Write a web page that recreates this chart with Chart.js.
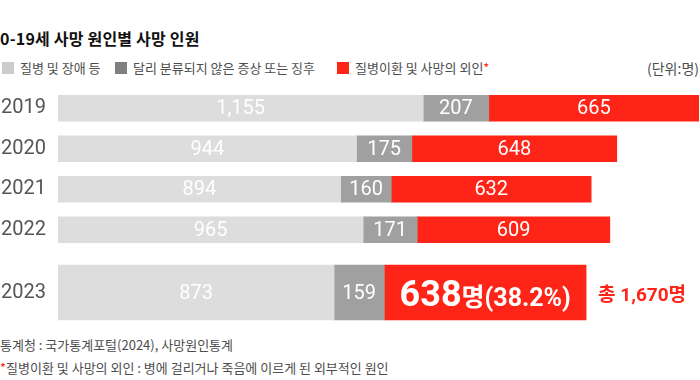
<!DOCTYPE html>
<html>
<head>
<meta charset="utf-8">
<script src="https://cdn.jsdelivr.net/npm/chart.js@4"></script>
<style>
  body { margin: 0; width: 700px; height: 380px; position: relative; overflow: hidden; background: #fff;
         font-family: "Noto Sans CJK KR", sans-serif; color: #4d4d4d; }
  .t { position: absolute; white-space: nowrap; }
  #title { left: 0; top: 28px; font-size: 16px; font-weight: 700; color: #111; line-height: 20px; letter-spacing: 0.2px; }
  .lg { top: 60px; font-size: 13px; line-height: 16px; }
  .sq { position: absolute; width: 12px; height: 12px; top: 62px; }
  .note { left: 0; font-size: 13px; line-height: 16px; }
  .star { color: #ff2418; }
  .box { position: absolute; left: 0; width: 700px; }
  canvas { display: block; }
</style>
</head>
<body>
<div class="t" id="title">0-19세 사망 원인별 사망 인원</div>

<div class="sq" style="left:2px;background:#cccccc"></div>
<div class="t lg" style="left:20px">질병 및 장애 등</div>
<div class="sq" style="left:115px;background:#808080"></div>
<div class="t lg" style="left:133px">달리 분류되지 않은 증상 또는 징후</div>
<div class="sq" style="left:337px;background:#ff2418"></div>
<div class="t lg" style="left:355px">질병이환 및 사망의 외인<span class="star">*</span></div>
<div class="t lg" style="right:1px;font-size:14px">(단위:명)</div>

<div class="box" style="top:88px;height:162px"><canvas id="chartTop" width="700" height="162"></canvas></div>
<div class="box" style="top:250px;height:85px"><canvas id="chartLast" width="700" height="85"></canvas></div>

<div class="t note" style="top:337px">통계청 : 국가통계포털(2024), 사망원인통계</div>
<div class="t note" style="top:360px"><span class="star">*</span>질병이환 및 사망의 외인 : 병에 걸리거나 죽음에 이르게 된 외부적인 원인</div>

<script>
const years = ['2019', '2020', '2021', '2022'];
const lastYear = ['2023'];
const disease = [1155, 944, 894, 965, 873];
const unclassified = [207, 175, 160, 171, 159];
const external = [665, 648, 632, 609, 638];
const seriesNames = ['질병 및 장애 등', '달리 분류되지 않은 증상 또는 징후', '질병이환 및 사망의 외인'];
const colors = ['#dddddd', '#a0a0a0', '#ff2418'];

const n = years.length;
const series = [disease, unclassified, external];
const totals = disease.map(function (v, i) { return v + unclassified[i] + external[i]; });
const maxTotal = Math.max.apply(null, totals);

// white numbers inside the bars; the 2023 red part gets the big label + total
const valueLabels = {
  id: 'valueLabels',
  afterDatasetsDraw(chart) {
    const ctx = chart.ctx;
    const big = chart.options.bigLabel;
    ctx.save();
    chart.data.datasets.forEach(function (ds, i) {
      const meta = chart.getDatasetMeta(i);
      meta.data.forEach(function (bar, j) {
        const v = ds.data[j];
        if (v == null) return;
        const cx = (bar.x + bar.base) / 2;
        ctx.fillStyle = '#fff';
        if (big && i == 2) {
          const total = totals[n + j];
          const a = String(v);
          const b = '명(' + (v / total * 100).toFixed(1) + '%)';
          ctx.textAlign = 'left';
          ctx.textBaseline = 'alphabetic';
          ctx.font = 'bold 36px Roboto, "Noto Sans CJK KR"';
          const wa = ctx.measureText(a).width;
          ctx.font = 'bold 25px Roboto, "Noto Sans CJK KR"';
          const wb = ctx.measureText(b).width;
          const x0 = cx - (wa + wb) / 2;
          ctx.font = 'bold 36px Roboto, "Noto Sans CJK KR"';
          ctx.fillText(a, x0, bar.y + 13.5);
          ctx.font = 'bold 25px Roboto, "Noto Sans CJK KR"';
          ctx.fillText(b, x0 + wa, bar.y + 13.5);
          ctx.fillStyle = '#ff2418';
          ctx.font = 'bold 19px Roboto, "Noto Sans CJK KR"';
          ctx.fillText('총 ' + total.toLocaleString('en-US') + '명', bar.x + 12, bar.y + 8.5);
        } else {
          ctx.textAlign = 'center';
          ctx.textBaseline = 'middle';
          ctx.font = '20px Roboto';
          ctx.fillText(v.toLocaleString('en-US'), cx, bar.y + 1);
        }
      });
    });
    ctx.restore();
  }
};

function makeChart(id, labels, from, to, thickness, big) {
  var datasets = series.map(function (s, k) {
    return { label: seriesNames[k], data: s.slice(from, to), backgroundColor: colors[k], barThickness: thickness };
  });
  return new Chart(document.getElementById(id).getContext('2d'), {
    type: 'bar',
    data: { labels: labels, datasets: datasets },
    options: {
      indexAxis: 'y',
      responsive: false,
      animation: false,
      bigLabel: big,
      layout: { padding: { top: 0, bottom: 0, left: 0, right: 1 } },
      plugins: { legend: { display: false }, tooltip: { enabled: false } },
      scales: {
        x: { stacked: true, display: false, min: 0, max: maxTotal },
        y: {
          stacked: true,
          grid: { display: false, drawTicks: false, tickLength: 0 },
          border: { display: false },
          ticks: { color: '#555', padding: 12, autoSkip: false, font: { family: 'Roboto', size: 20 } },
          afterFit: function (s) {
            s.width = 58;
            s.paddingTop = 0;
            s.paddingBottom = 0;
          }
        }
      }
    },
    plugins: [valueLabels]
  });
}

const chartTop = makeChart('chartTop', years, 0, n, 26, false);
const chartLast = makeChart('chartLast', lastYear, n, n + 1, 55, true);
</script>
</body>
</html>
